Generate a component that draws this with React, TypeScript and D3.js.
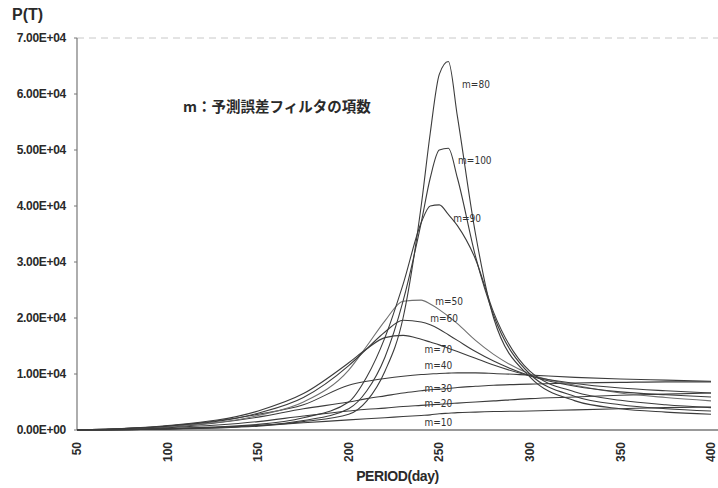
import { useEffect, useRef } from "react";
import * as d3 from "d3";

// periods (day) where the curves were sampled from the picture
const periods = [50, 100, 150, 175, 200, 210, 220, 230, 240, 245, 250, 255, 260, 270, 280, 300, 325, 350, 375, 400];

const m10 = [0, 200, 800, 1300, 1800, 2000, 2200, 2400, 2600, 2700, 2900, 3000, 3100, 3200, 3300, 3400, 3600, 3800, 4000, 4100];
const m20 = [0, 400, 1500, 2500, 3400, 3700, 3900, 4200, 4400, 4500, 4600, 4700, 4800, 5000, 5200, 5600, 5900, 6200, 6400, 6600];
const m30 = [0, 500, 2300, 3800, 5000, 5600, 6100, 6600, 7000, 7200, 7300, 7400, 7600, 7800, 8000, 8200, 8400, 8500, 8600, 8600];
const m40 = [0, 700, 2800, 4500, 8000, 8700, 9200, 9600, 9900, 10000, 10100, 10150, 10200, 10200, 10100, 9800, 9400, 9100, 8900, 8700];
const m50 = [0, 600, 2600, 5000, 10700, 15000, 19500, 23000, 23200, 22500, 21500, 20300, 19000, 16000, 13500, 10000, 8000, 6600, 5800, 5200];
const m60 = [0, 700, 3000, 5800, 11500, 14500, 17500, 19600, 19300, 18800, 18000, 17000, 16000, 14000, 12300, 9700, 7800, 6800, 6300, 5900];
const m70 = [0, 800, 3400, 6500, 12000, 14500, 16500, 16900, 16200, 15700, 15200, 14600, 14000, 12800, 11600, 9700, 8300, 7500, 7000, 6600];
const m80 = [0, 150, 700, 1500, 2800, 5200, 10500, 20000, 40000, 53000, 63500, 65800, 56000, 35000, 20000, 9500, 5200, 3800, 3200, 2800];
const m90 = [0, 250, 1000, 2200, 5000, 9500, 16500, 26000, 37000, 40000, 40200, 38500, 36500, 30500, 21000, 10500, 6800, 5300, 4500, 4000];
const m100 = [0, 200, 800, 1700, 3800, 7000, 13000, 23000, 37000, 45000, 50000, 50300, 45000, 31000, 20500, 10000, 6000, 4500, 3800, 3400];

const seriesNames = ["m=10", "m=20", "m=30", "m=40", "m=50", "m=60", "m=70", "m=80", "m=90", "m=100"];
const seriesValues = [m10, m20, m30, m40, m50, m60, m70, m80, m90, m100];

// where each curve label sits (period, value)
const labelPeriods = [241.8, 241.8, 241.8, 241.8, 247.8, 245, 241.8, 262.6, 257.7, 260.4];
const labelValues = [700, 4100, 6800, 10900, 22300, 19300, 13750, 61000, 37100, 47500];

const xTicks = [50, 100, 150, 200, 250, 300, 350, 400];
const yTicks = [0, 10000, 20000, 30000, 40000, 50000, 60000, 70000];
const yTickLabels = ["0.00E+00", "1.00E+04", "2.00E+04", "3.00E+04", "4.00E+04", "5.00E+04", "6.00E+04", "7.00E+04"];

export default function App() {
  const ref = useRef<SVGSVGElement>(null);

  useEffect(() => {
    const svg = d3.select(ref.current);
    svg.selectAll("*").remove();

    const width = 718;
    const height = 488;
    const margin = { top: 38, right: 7, bottom: 58, left: 77 };

    const x = d3.scaleLinear().domain([50, 400]).range([margin.left, width - margin.right]);
    const y = d3.scaleLinear().domain([0, 70000]).range([height - margin.bottom, margin.top]);

    const axisFont = "'Liberation Sans', Arial, sans-serif";
    const textColor = "#2a2a2a";

    // faint dashed line at the top
    svg.append("line")
      .attr("x1", x(50))
      .attr("x2", width)
      .attr("y1", y(70000))
      .attr("y2", y(70000))
      .attr("stroke", "#c8c8c8")
      .attr("stroke-dasharray", "7,5");

    // left axis
    svg.append("line")
      .attr("x1", x(50))
      .attr("x2", x(50))
      .attr("y1", y(70000))
      .attr("y2", y(0))
      .attr("stroke", "#777")
      .attr("stroke-width", 1.2);

    yTicks.forEach((t, i) => {
      svg.append("line")
        .attr("x1", x(50) - 3)
        .attr("x2", x(50))
        .attr("y1", y(t))
        .attr("y2", y(t))
        .attr("stroke", "#777");

      svg.append("text")
        .attr("x", x(50) - 11)
        .attr("y", y(t))
        .attr("dy", "0.35em")
        .attr("text-anchor", "end")
        .attr("font-family", axisFont)
        .attr("font-weight", "bold")
        .attr("font-size", 12)
        .attr("letter-spacing", -0.3)
        .attr("fill", textColor)
        .text(yTickLabels[i]);
    });

    // bottom axis
    svg.append("line")
      .attr("x1", x(50))
      .attr("x2", width)
      .attr("y1", y(0))
      .attr("y2", y(0))
      .attr("stroke", "#777")
      .attr("stroke-width", 1.5);

    xTicks.forEach(t => {
      svg.append("text")
        .attr("transform", `translate(${x(t)},${y(0) + 12}) rotate(-90)`)
        .attr("dy", "0.35em")
        .attr("text-anchor", "end")
        .attr("font-family", axisFont)
        .attr("font-weight", "bold")
        .attr("font-size", 12)
        .attr("fill", textColor)
        .text(t);
    });

    // curves
    const line = d3.line<number>()
      .x((d, i) => x(periods[i]))
      .y(d => y(d))
      .curve(d3.curveMonotoneX);

    seriesValues.forEach((vals, i) => {
      svg.append("path")
        .attr("d", line(vals))
        .attr("fill", "none")
        .attr("stroke", i === 4 ? "#707070" : "#3c3c3c")
        .attr("stroke-width", 1.1);
    });

    seriesNames.forEach((name, i) => {
      svg.append("text")
        .attr("x", x(labelPeriods[i]))
        .attr("y", y(labelValues[i]))
        .attr("font-family", "'DejaVu Sans Condensed', 'Liberation Sans Narrow', sans-serif")
        .attr("font-stretch", "condensed")
        .attr("font-size", 10)
        .attr("fill", "#333")
        .text(name);
    });

    // titles
    svg.append("text")
      .attr("x", 12)
      .attr("y", 20)
      .attr("font-family", axisFont)
      .attr("font-weight", "bold")
      .attr("font-size", 16)
      .attr("fill", textColor)
      .text("P(T)");

    svg.append("text")
      .attr("x", (x(50) + width) / 2)
      .attr("y", 481)
      .attr("text-anchor", "middle")
      .attr("font-family", axisFont)
      .attr("font-weight", "bold")
      .attr("font-size", 14)
      .attr("letter-spacing", -0.4)
      .attr("fill", textColor)
      .text("PERIOD(day)");

    svg.append("text")
      .attr("x", 183)
      .attr("y", 112)
      .attr("font-family", "'Noto Sans CJK JP', sans-serif")
      .attr("font-weight", "bold")
      .attr("font-size", 14.5)
      .attr("fill", textColor)
      .text("m：予測誤差フィルタの項数");
  }, []);

  return (
    <svg
      ref={ref}
      width={718}
      height={488}
      style={{ position: "absolute", left: 0, top: 0, background: "#fff" }}
    ></svg>
  );
}
